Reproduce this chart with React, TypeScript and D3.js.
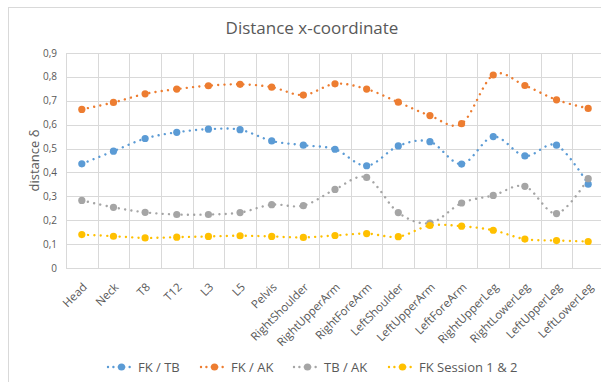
import React from "react";
import * as d3 from "d3";

const categories = ["Head","Neck","T8","T12","L3","L5","Pelvis","RightShoulder","RightUpperArm","RightForeArm","LeftShoulder","LeftUpperArm","LeftForeArm","RightUpperLeg","RightLowerLeg","LeftUpperLeg","LeftLowerLeg"];
const fkTb = [0.436,0.489,0.542,0.568,0.581,0.579,0.532,0.514,0.497,0.428,0.511,0.529,0.435,0.550,0.469,0.514,0.351];
const fkAk = [0.664,0.693,0.729,0.749,0.763,0.769,0.757,0.724,0.771,0.749,0.694,0.638,0.604,0.808,0.764,0.704,0.668];
const tbAk = [0.283,0.254,0.233,0.224,0.224,0.232,0.265,0.261,0.329,0.379,0.232,0.188,0.272,0.304,0.342,0.228,0.374];
const fkSession = [0.140,0.133,0.126,0.129,0.132,0.135,0.132,0.128,0.136,0.144,0.131,0.178,0.175,0.158,0.121,0.115,0.111];
const seriesNames = ["FK / TB","FK / AK","TB / AK","FK Session 1 & 2"];
const seriesColors = ["#5B9BD5","#ED7D31","#A5A5A5","#FFC000"];
const yTicks = [0,0.1,0.2,0.3,0.4,0.5,0.6,0.7,0.8,0.9];
const title = "Distance x-coordinate";
const yTitle = "distance δ";

const W = 601, H = 382;
const FONT = "'Open Sans', sans-serif";
const TXT = "#595959";

export default function App() {
  const series = [fkTb, fkAk, tbAk, fkSession];
  const x = d3.scaleBand<string>().domain(categories).range([66, 604]).padding(0);
  const y = d3.scaleLinear().domain([0, 0.9]).range([268, 53]);
  const cx = (c: string) => (x(c) as number) + x.bandwidth() / 2;
  const line = d3.line<number>()
    .x((_, i) => cx(categories[i]))
    .y((v) => y(v))
    .curve(d3.curveCardinal.tension(0));
  const legendX = [107, 200, 293, 388];
  const legendY = 367;
  return (
    <svg width={W} height={H} style={{ position: "absolute", left: 0, top: 0, display: "block" }} fontFamily={FONT}>
      <rect x={0} y={0} width={W} height={H} fill="#fff" />
      <rect x={8.5} y={7.5} width={W + 10} height={H + 10} fill="none" stroke="#d9d9d9" strokeWidth={1} />
      <text x={312} y={34} textAnchor="middle" fontSize={17} fill={TXT}>{title}</text>
      {yTicks.map((t) => (
        <line key={"h" + t} x1={66} x2={604} y1={Math.round(y(t)) + 0.5} y2={Math.round(y(t)) + 0.5} stroke="#d9d9d9" strokeWidth={1} />
      ))}
      {categories.map((c) => (
        <line key={"v" + c} x1={Math.round(x(c) as number) + 0.5} x2={Math.round(x(c) as number) + 0.5} y1={y(0.9)} y2={y(0)} stroke="#d9d9d9" strokeWidth={1} />
      ))}
      {yTicks.map((t) => (
        <text key={"yl" + t} x={57} y={y(t)} dy="0.35em" textAnchor="end" fontSize={10} fill={TXT}>
          {t === 0 ? "0" : d3.format(".1f")(t).replace(".", ",")}
        </text>
      ))}
      <text transform={`translate(34,${(y(0) + y(0.9)) / 2}) rotate(-90)`} textAnchor="middle" dy="0.35em" fontSize={13} fill={TXT}>{yTitle}</text>
      {categories.map((c) => (
        <text key={"xl" + c} transform={`translate(${cx(c) + 3},${285}) rotate(-45)`} textAnchor="end" dy="0.35em" fontSize={11.5} fill={TXT}>{c}</text>
      ))}
      {series.map((s, si) => (
        <g key={"s" + si}>
          <path d={line(s) || ""} fill="none" stroke={seriesColors[si]} strokeWidth={2.4} strokeDasharray="0.01 6.3" strokeLinecap="round" />
          {s.map((v, i) => (
            <circle key={i} cx={cx(categories[i])} cy={y(v)} r={3.6} fill={seriesColors[si]} />
          ))}
        </g>
      ))}
      {seriesNames.map((n, i) => (
        <g key={"lg" + i} transform={`translate(${legendX[i]},${legendY})`}>
          <line x1={1} x2={28} y1={0} y2={0} stroke={seriesColors[i]} strokeWidth={2.4} strokeDasharray="0.01 5.4" strokeLinecap="round" />
          <circle cx={14.5} cy={0} r={3.6} fill={seriesColors[i]} />
          <text x={31} y={0} dy="0.35em" fontSize={13} fill={TXT}>{n}</text>
        </g>
      ))}
    </svg>
  );
}
